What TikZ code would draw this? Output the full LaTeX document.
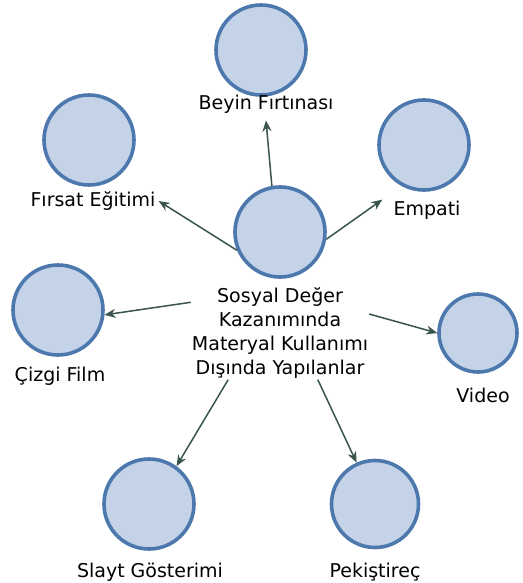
\documentclass[tikz,border=0pt]{standalone}
\usepackage{fontspec}
\setmainfont{DejaVu Sans}
\usetikzlibrary{arrows.meta, positioning}

\definecolor{ringblue}{RGB}{76,120,174}
\definecolor{fillblue}{RGB}{197,211,233}
\definecolor{arrowgreen}{RGB}{56,84,76}

\tikzset{
    bubble/.style={circle, draw=ringblue, line width=3.6pt, fill=fillblue, minimum size=#1, inner sep=0pt},
    bubble/.default=90pt,
    caption/.style={font=\fontsize{19}{24}\selectfont, inner sep=1pt, align=center},
    link/.style={-{Stealth[length=11pt,width=9pt]}, draw=arrowgreen, line width=1.5pt}
}

\begin{document}
\begin{tikzpicture}[x=1pt, y=-1pt]
    \useasboundingbox (0,0) rectangle (522,583);

    % Hub node
    \node[bubble] (hub) at (280,232) {};
    \node[caption] (hublbl) at (280,333) {Sosyal Değer\\Kazanımında\\Materyal Kullanımı\\Dışında Yapılanlar};

    % Leaf nodes
    \foreach \nm/\sz/\pos/\lpos/\txt in {beyin/90pt/{261,50}/{266,104}/Beyin Fırtınası,
        firsat/90pt/{89,140}/{93,201}/Fırsat Eğitimi,
        empati/90pt/{424,145}/{427,210}/Empati,
        cizgi/90pt/{58,310}/{60,376}/Çizgi Film,
        video/78pt/{478,333}/{483,395}/Video,
        slayt/90pt/{149,504}/{150,572}/Slayt Gösterimi,
        pek/87pt/{375,504}/{375,572}/Pekiştireç} {
        \node[bubble=\sz] (\nm) at (\pos) {};
        \node[caption] (\nm lbl) at (\lpos) {\txt};
    }

    % Connectors
    \draw[link] (hub.100) -- ([yshift=-6pt]beyinlbl.south);
    \draw[link] (hub.203) -- ([xshift=2pt]firsatlbl.east);
    \draw[link] (hub.-9) -- ([xshift=-10pt]empatilbl.north west);
    \draw[link] (hublbl.161) -- (cizgi.-6);
    \draw[link] (hublbl.12) -- (video.west);
    \draw[link] (hublbl.222) -- (slayt.54);
    \draw[link] (hublbl.-51) -- (pek.114);
\end{tikzpicture}
\end{document}
